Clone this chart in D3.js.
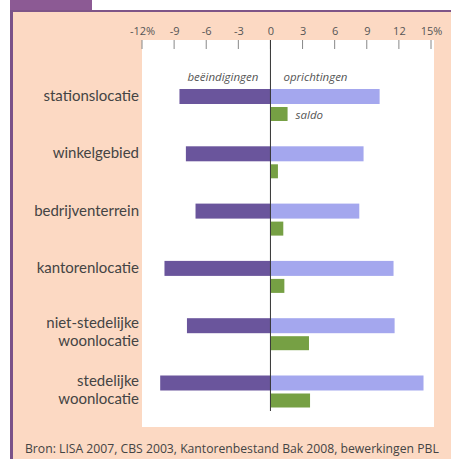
<!DOCTYPE html>
<html>
<head>
<meta charset="utf-8">
<script src="https://cdn.jsdelivr.net/npm/d3@7"></script>
<style>
  body { margin: 0; background: #fff; }
  svg { display: block; }
</style>
</head>
<body>
<div id="chart"></div>
<script>
// data (percentages)
var categories = [["stationslocatie"], ["winkelgebied"], ["bedrijventerrein"], ["kantorenlocatie"],
    ["niet-stedelijke", "woonlocatie"], ["stedelijke", "woonlocatie"]];
var beeindigingen = [-8.5, -7.9, -7.0, -9.9, -7.8, -10.3];
var oprichtingen = [10.2, 8.7, 8.3, 11.5, 11.6, 14.3];
var saldo = [1.6, 0.7, 1.2, 1.3, 3.6, 3.7];
var tickValues = [-12, -9, -6, -3, 0, 3, 6, 9, 12, 15];
var tickLabels = ["-12%", "-9", "-6", "-3", "0", "3", "6", "9", "12", "15%"];

var w = 451, h = 459;
var font = "'Open Sans', sans-serif";
var labelFont = "Lato, sans-serif";

var svg = d3.select("#chart")
    .append("svg")
    .attr("width", w)
    .attr("height", h);

// frame: peach panel, purple tab and borders
svg.append("rect").attr("x", 10).attr("y", 10).attr("width", w - 10).attr("height", h - 10).attr("fill", "#fcd9c3");
svg.append("rect").attr("x", 10).attr("y", 0).attr("width", 82).attr("height", 11).attr("fill", "#8c5a94");
svg.append("rect").attr("x", 10).attr("y", 10).attr("width", w - 10).attr("height", 2).attr("fill", "#7e5588");
svg.append("rect").attr("x", 10).attr("y", 10).attr("width", 3).attr("height", h - 10).attr("fill", "#7a5289");

var x = d3.scaleLinear().domain([-12, 15]).range([142, 431]);

// white plot panel
svg.append("rect")
    .attr("x", 142).attr("y", 40)
    .attr("width", 292).attr("height", 387)
    .attr("fill", "#ffffff");

// axis on top
var axis = d3.axisTop(x)
    .tickValues(tickValues)
    .tickSize(0)
    .tickPadding(0)
    .tickFormat(function(d, i) { return tickLabels[i]; });

var ag = svg.append("g")
    .attr("transform", "translate(0,35)")
    .call(axis);
ag.select(".domain").remove();
ag.selectAll("text")
    .attr("font-family", font)
    .attr("font-size", "11px")
    .attr("fill", "#555");

svg.append("g").selectAll("line")
    .data(tickValues).enter()
    .append("line")
    .attr("x1", function(d) { return x(d); })
    .attr("x2", function(d) { return x(d); })
    .attr("y1", 40).attr("y2", 49)
    .attr("stroke", "#888")
    .attr("stroke-width", 1);

var y = d3.scaleBand()
    .domain(d3.range(categories.length))
    .range([89, 89 + 57.3 * categories.length]);

var barH = 15, gap = 3;

var rows = svg.selectAll(".row")
    .data(categories).enter()
    .append("g")
    .attr("class", "row")
    .attr("transform", function(d, i) { return "translate(0," + y(i) + ")"; });

rows.append("rect")
    .attr("x", function(d, i) { return x(beeindigingen[i]); })
    .attr("width", function(d, i) { return x(0) - x(beeindigingen[i]); })
    .attr("y", 0).attr("height", barH)
    .attr("fill", "#6a559c");

rows.append("rect")
    .attr("x", x(0))
    .attr("width", function(d, i) { return x(oprichtingen[i]) - x(0); })
    .attr("y", 0).attr("height", barH)
    .attr("fill", "#a4a7ee");

rows.append("rect")
    .attr("x", x(0))
    .attr("width", function(d, i) { return x(saldo[i]) - x(0); })
    .attr("y", barH + gap).attr("height", barH - 1)
    .attr("fill", "#76a044");

// category labels, one text per line
rows.each(function(d) {
    var g = d3.select(this);
    d.forEach(function(line, j) {
        g.append("text")
            .attr("text-anchor", "end")
            .attr("font-family", labelFont)
            .attr("font-size", "15px")
            .attr("fill", "#444")
            .attr("x", 139)
            .attr("y", d.length == 1 ? 12 : 10 + j * 18)
            .text(line);
    });
});

// zero line
svg.append("line")
    .attr("x1", x(0)).attr("x2", x(0))
    .attr("y1", 40).attr("y2", 411)
    .attr("stroke", "#333")
    .attr("stroke-width", 1);

// legend labels
svg.append("text")
    .attr("x", x(0) - 12).attr("y", 81)
    .attr("text-anchor", "end")
    .attr("font-family", font).attr("font-style", "italic")
    .attr("font-size", "11.5px").attr("fill", "#555")
    .text("beëindigingen");
svg.append("text")
    .attr("x", x(0) + 13).attr("y", 81)
    .attr("font-family", font).attr("font-style", "italic")
    .attr("font-size", "11.5px").attr("fill", "#555")
    .text("oprichtingen");
svg.append("text")
    .attr("x", x(saldo[0]) + 8).attr("y", 119)
    .attr("font-family", font).attr("font-style", "italic")
    .attr("font-size", "11.5px").attr("fill", "#555")
    .text("saldo");

// source
svg.append("text")
    .attr("x", 25).attr("y", 453)
    .attr("font-family", font)
    .attr("font-size", "12.2px").attr("fill", "#444")
    .text("Bron: LISA 2007, CBS 2003, Kantorenbestand Bak 2008, bewerkingen PBL");
</script>
</body>
</html>
